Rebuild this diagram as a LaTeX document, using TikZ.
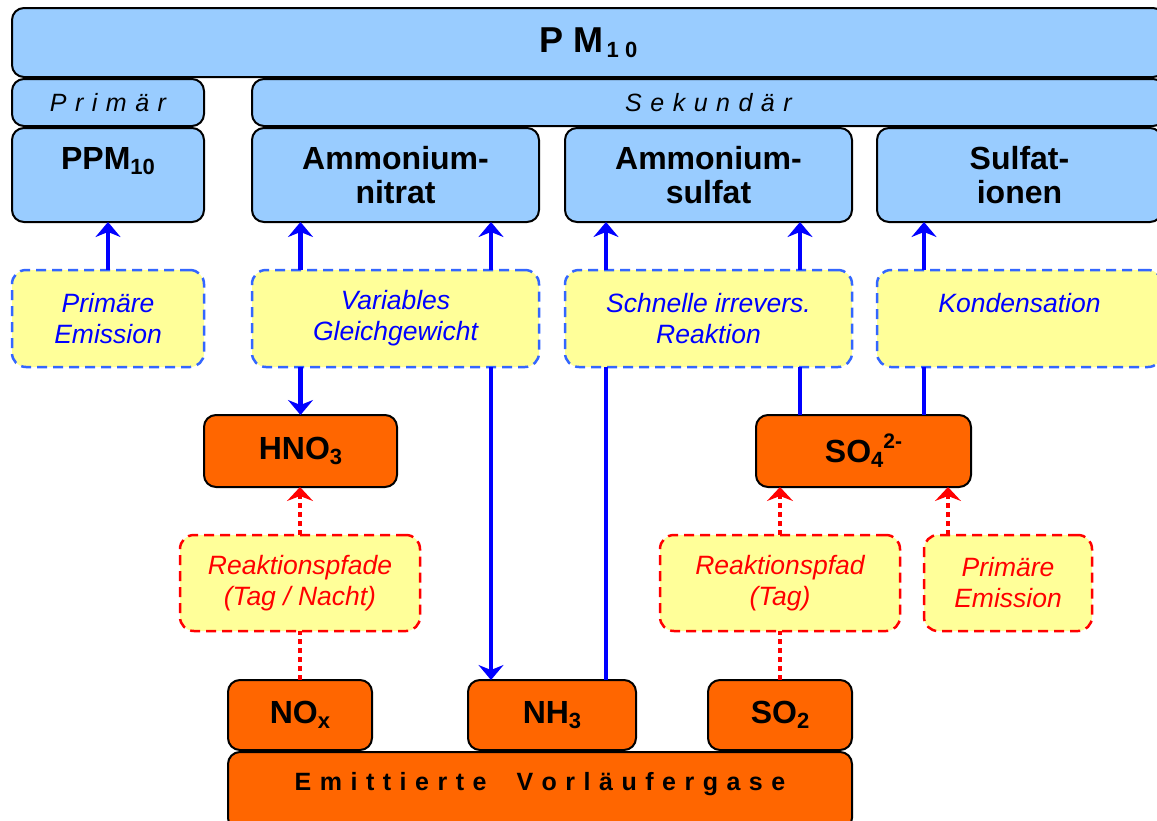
\documentclass[tikz,border=0pt]{standalone}
\usepackage{fontspec}
\setmainfont{Liberation Sans}
\usetikzlibrary{arrows.meta}
\definecolor{boxblue}{HTML}{99CCFF}
\definecolor{boxyel}{HTML}{FFFF99}
\definecolor{boxora}{HTML}{FF6600}
\definecolor{dashblue}{HTML}{3366FF}
\definecolor{arrblue}{HTML}{0000FF}
\definecolor{arrred}{HTML}{FF0000}
\newcommand\subx[1]{\raisebox{-5pt}{\fontsize{22}{22}\selectfont #1}}
\newcommand\supx[1]{\raisebox{14pt}{\fontsize{21}{21}\selectfont #1}}
\newcommand\gp{\hspace{0.34em}}
\tikzset{
  base/.style={rounded corners=12pt, inner sep=0pt, outer sep=0pt, align=center},
  bbox/.style={base, draw=black, line width=2pt, fill=boxblue},
  obox/.style={base, draw=black, line width=2pt, fill=boxora},
  ybbox/.style={base, rounded corners=14pt, draw=dashblue, line width=2.5pt, dash pattern=on 10pt off 6pt, fill=boxyel, text=arrblue},
  yrbox/.style={base, rounded corners=14pt, draw=arrred, line width=2.5pt, dash pattern=on 10pt off 6pt, fill=boxyel, text=arrred},
  big/.style={font=\bfseries\fontsize{32}{34}\selectfont},
  lab/.style={font=\itshape\fontsize{26.5}{31}\selectfont},
  spc/.style={font=\itshape\fontsize{25}{25}\selectfont},
  bline/.style={draw=arrblue, line width=4.5pt},
  barr/.style={bline, -{Stealth[length=15pt,width=25pt,inset=5pt]}},
  rline/.style={draw=arrred, line width=4.5pt, dash pattern=on 5pt off 4pt},
  rarr/.style={rline, -{Stealth[length=14pt,width=26pt,inset=5pt]}}
}
\begin{document}
\begin{tikzpicture}[x=1pt,y=-1pt]
\clip (0,0) rectangle (1157,820);
\fill[white] (0,0) rectangle (1157,820);
\coordinate (cB) at (491,0);
\coordinate (cC) at (606,0);
\coordinate (cD) at (800,0);
\coordinate (cE) at (924,0);
\coordinate (cG) at (948,0);
% top row
\node[bbox, minimum width=1153pt, minimum height=69pt, font=\bfseries\fontsize{36}{36}\selectfont] (pm) at (588.5,42.5) {P M\hspace{3pt}\subx{1 0}};
\node[bbox, spc, minimum width=192pt, minimum height=47pt] (prim) at (108,102.5) {P\gp r\gp i\gp m\gp ä\gp r};
\node[bbox, spc, minimum width=913pt, minimum height=47pt] (sek) at (708.5,102.5) {S\gp e\gp k\gp u\gp n\gp d\gp ä\gp r};
% components
\node[bbox, big, minimum width=192pt, minimum height=94pt] (ppm) at (108,175) {PPM\subx{10}\\\mbox{}};
\node[bbox, big, minimum width=287pt, minimum height=94pt] (an) at (395.5,175) {Ammonium-\\nitrat};
\node[bbox, big, minimum width=287pt, minimum height=94pt] (as) at (708.5,175) {Ammonium-\\sulfat};
\node[bbox, big, minimum width=285pt, minimum height=94pt] (si) at (1019.5,175) {Sulfat-\\ionen};
% process boxes (blue)
\node[ybbox, lab, minimum width=192pt, minimum height=97pt] (ep1) at (108,318.5) {Primäre\\Emission};
\node[ybbox, lab, minimum width=287pt, minimum height=97pt] (vg) at (395.5,318.5) {Variables\\Gleichgewicht};
\node[ybbox, lab, minimum width=287pt, minimum height=97pt] (sr) at (708.5,318.5) {Schnelle irrevers.\\Reaktion};
\node[ybbox, lab, minimum width=285pt, minimum height=97pt] (ko) at (1019.5,318.5) {Kondensation\\\mbox{}};
% intermediates
\node[obox, big, minimum width=193pt, minimum height=72pt] (hno) at (300.5,451) {HNO\subx{3}};
\node[obox, big, minimum width=215pt, minimum height=72pt] (so4) at (863.5,451) {SO\subx{4}\supx{2-}};
% process boxes (red)
\node[yrbox, lab, minimum width=240pt, minimum height=96pt] (rp1) at (300,583) {Reaktionspfade\\(Tag / Nacht)};
\node[yrbox, lab, minimum width=240pt, minimum height=96pt] (rp2) at (780,583) {Reaktionspfad\\(Tag)};
\node[yrbox, lab, minimum width=168pt, minimum height=96pt] (ep2) at (1008,583) {Primäre\\Emission};
% precursors
\node[obox, big, minimum width=144pt, minimum height=70pt] (nox) at (300,715) {NO\subx{x}};
\node[obox, big, minimum width=168pt, minimum height=70pt] (nh3) at (552,715) {NH\subx{3}};
\node[obox, big, minimum width=144pt, minimum height=70pt] (so2) at (780,715) {SO\subx{2}};
\node[obox, font=\bfseries\fontsize{25}{25}\selectfont, minimum width=624pt, minimum height=78pt, text height=18pt, text depth=20pt] (emi) at (540,791) {E\gp m\gp i\gp t\gp t\gp i\gp e\gp r\gp t\gp e\hspace{1.2em}V\gp o\gp r\gp l\gp ä\gp u\gp f\gp e\gp r\gp g\gp a\gp s\gp e};
% blue connectors
\draw[barr] (ep1.north) -- (ppm.south);
\draw[barr] (vg.north -| hno.north) -- (an.south -| hno.north);
\draw[barr] (vg.north -| cB) -- (an.south -| cB);
\draw[barr] (sr.north -| cC) -- (as.south -| cC);
\draw[barr] (sr.north -| cD) -- (as.south -| cD);
\draw[barr] (ko.north -| cE) -- (si.south -| cE);
\draw[barr] (vg.south -| hno.north) -- (hno.north);
\draw[barr] (vg.south -| cB) -- (nh3.north -| cB);
\draw[bline] (nh3.north -| cC) -- (sr.south -| cC);
\draw[bline] (so4.north -| cD) -- (sr.south -| cD);
\draw[bline] (so4.north -| cE) -- (ko.south -| cE);
% red connectors
\draw[rarr] (rp1.north) -- (hno.south -| rp1.north);
\draw[rline] (nox.north) -- (rp1.south);
\draw[rarr] (rp2.north) -- (so4.south -| rp2.north);
\draw[rline] (so2.north) -- (rp2.south);
\draw[rarr] (ep2.north -| cG) -- (so4.south -| cG);
\end{tikzpicture}
\end{document}
